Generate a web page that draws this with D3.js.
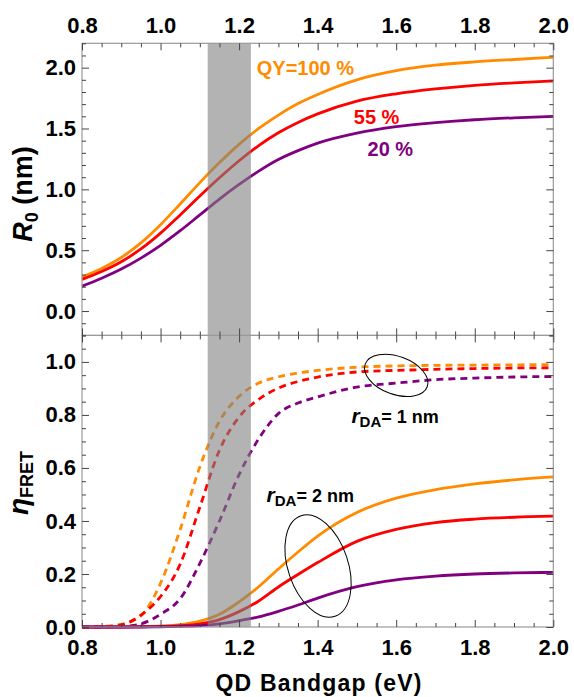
<!DOCTYPE html>
<html>
<head>
<meta charset="utf-8">
<script src="https://cdn.jsdelivr.net/npm/d3@7"></script>
<style>
  body { margin: 0; background: #fff; }
  svg text { font-family: "Liberation Sans", Arial, sans-serif; font-weight: bold; }
</style>
</head>
<body>
<svg width="574" height="697"></svg>
<script>
// bandgap grid (eV), shared by all curves
var bandgap = [0.80, 0.85, 0.90, 0.95, 1.00, 1.05, 1.10, 1.15, 1.20, 1.25, 1.30, 1.35, 1.40, 1.50, 1.60, 1.70, 1.80, 1.90, 2.00];

// Forster radius R0 (nm) for QY = 100 %, 55 %, 20 %
var r0QY100 = [0.28, 0.35, 0.44, 0.56, 0.71, 0.88, 1.055, 1.22, 1.37, 1.50, 1.61, 1.705, 1.78, 1.90, 1.975, 2.02, 2.047, 2.067, 2.085];
var r0QY55  = [0.26, 0.325, 0.405, 0.51, 0.64, 0.79, 0.945, 1.095, 1.235, 1.36, 1.465, 1.55, 1.62, 1.725, 1.785, 1.825, 1.855, 1.875, 1.89];
var r0QY20  = [0.205, 0.27, 0.345, 0.435, 0.54, 0.66, 0.79, 0.92, 1.04, 1.15, 1.245, 1.318, 1.38, 1.462, 1.515, 1.548, 1.572, 1.588, 1.60];

// FRET efficiency, rDA = 1 nm (dashed)
var eff1QY100 = [0, 0.002, 0.01, 0.042, 0.165, 0.368, 0.604, 0.776, 0.87, 0.92, 0.944, 0.958, 0.968, 0.98, 0.985, 0.987, 0.988, 0.989, 0.99];
var eff1QY55  = [0, 0.001, 0.008, 0.045, 0.115, 0.237, 0.452, 0.667, 0.792, 0.859, 0.901, 0.926, 0.943, 0.962, 0.968, 0.972, 0.975, 0.977, 0.978];
var eff1QY20  = [0, 0, 0.002, 0.012, 0.048, 0.107, 0.24, 0.40, 0.575, 0.71, 0.805, 0.845, 0.868, 0.905, 0.92, 0.933, 0.939, 0.943, 0.945];

// FRET efficiency, rDA = 2 nm (solid)
var eff2QY100 = [0, 0, 0.001, 0.002, 0.004, 0.009, 0.022, 0.048, 0.095, 0.152, 0.219, 0.283, 0.343, 0.432, 0.486, 0.518, 0.54, 0.555, 0.566];
var eff2QY55  = [0, 0, 0, 0.001, 0.002, 0.005, 0.012, 0.028, 0.058, 0.098, 0.151, 0.198, 0.243, 0.323, 0.368, 0.394, 0.407, 0.414, 0.418];
var eff2QY20  = [0, 0, 0, 0, 0.001, 0.002, 0.005, 0.012, 0.024, 0.038, 0.059, 0.083, 0.109, 0.152, 0.178, 0.192, 0.20, 0.204, 0.206];

var band = [1.12, 1.23];   // shaded bandgap window

var xTicks = [0.8, 1.0, 1.2, 1.4, 1.6, 1.8, 2.0];
var topTicks = [0.0, 0.5, 1.0, 1.5, 2.0];
var botTicks = [0.0, 0.2, 0.4, 0.6, 0.8, 1.0];

var orange = "#ff8c00", red = "#ff0000", purple = "#800080";

var svg = d3.select("svg");

var x = d3.scaleLinear().domain([0.8, 2.0]).range([82, 553.3]);
var yTop = d3.scaleLinear().domain([-0.2, 2.2]).range([335.4, 43.3]);
var yBot = d3.scaleLinear().domain([0, 1.1]).range([627, 335.4]);

function steps(a, b, s) {
    var out = [];
    var n = Math.round((b - a) / s);
    for (var i = 0; i <= n; i++) out.push(+(a + i * s).toFixed(3));
    return out;
}
function minors(a, b, s, majors) {
    return steps(a, b, s).filter(v => !majors.some(m => Math.abs(m - v) < 1e-6));
}

var xMinor = minors(0.8, 2.0, 0.05, xTicks);
var topMinor = minors(-0.2, 2.2, 0.1, topTicks);
var botMinor = minors(0, 1.1, 0.05, botTicks);

var line = function(y) {
    return d3.line()
        .x((d, i) => x(bandgap[i]))
        .y(d => y(d))
        .curve(d3.curveMonotoneX);
};

// curves
var topSeries = [[r0QY100, orange], [r0QY55, red], [r0QY20, purple]];
topSeries.forEach(function(s) {
    svg.append("path")
        .attr("d", line(yTop)(s[0]))
        .attr("fill", "none")
        .attr("stroke", s[1])
        .attr("stroke-width", 2.8);
});

var dashSeries = [[eff1QY100, orange], [eff1QY55, red], [eff1QY20, purple]];
dashSeries.forEach(function(s) {
    svg.append("path")
        .attr("d", line(yBot)(s[0]))
        .attr("fill", "none")
        .attr("stroke", s[1])
        .attr("stroke-width", 2.8)
        .attr("stroke-dasharray", "7,5");
});

var solidSeries = [[eff2QY100, orange], [eff2QY55, red], [eff2QY20, purple]];
solidSeries.forEach(function(s) {
    svg.append("path")
        .attr("d", line(yBot)(s[0]))
        .attr("fill", "none")
        .attr("stroke", s[1])
        .attr("stroke-width", 2.8);
});

// shaded window, drawn over the curves
svg.append("rect")
    .attr("x", x(band[0]))
    .attr("width", x(band[1]) - x(band[0]))
    .attr("y", yTop.range()[1])
    .attr("height", yBot.range()[0] - yTop.range()[1])
    .attr("fill", "#808080")
    .attr("fill-opacity", 0.6);

// frames
[[yTop], [yBot]].forEach(function(p) {
    var r = p[0].range();
    svg.append("rect")
        .attr("x", x.range()[0]).attr("y", r[1])
        .attr("width", x.range()[1] - x.range()[0])
        .attr("height", r[0] - r[1])
        .attr("fill", "none")
        .attr("stroke", "#9a9a9a")
        .attr("stroke-width", 1.2);
});

function addAxis(axis, tx, ty) {
    var g = svg.append("g")
        .attr("transform", "translate(" + tx + "," + ty + ")")
        .style("color", "#444")
        .call(axis);
    g.select(".domain").remove();
    g.selectAll("text")
        .attr("fill", "#000")
        .style("font-size", "22px")
        .style("font-family", "'Liberation Sans', Arial, sans-serif")
        .style("font-weight", "bold");
    return g;
}
var fmt = d3.format(".1f");

// x axes
addAxis(d3.axisTop(x).tickValues(xTicks).tickSize(-7).tickPadding(10).tickFormat(fmt), 0, yTop.range()[1]);
addAxis(d3.axisTop(x).tickValues(xMinor).tickSize(-4).tickFormat(""), 0, yTop.range()[1]);
addAxis(d3.axisBottom(x).tickValues(xTicks).tickSize(-7).tickFormat(""), 0, yTop.range()[0]);
addAxis(d3.axisBottom(x).tickValues(xMinor).tickSize(-4).tickFormat(""), 0, yTop.range()[0]);
addAxis(d3.axisTop(x).tickValues(xTicks).tickSize(-7).tickFormat(""), 0, yBot.range()[1]);
addAxis(d3.axisTop(x).tickValues(xMinor).tickSize(-4).tickFormat(""), 0, yBot.range()[1]);
addAxis(d3.axisBottom(x).tickValues(xTicks).tickSize(-7).tickPadding(12).tickFormat(fmt), 0, yBot.range()[0]);
addAxis(d3.axisBottom(x).tickValues(xMinor).tickSize(-4).tickFormat(""), 0, yBot.range()[0]);

// y axes
addAxis(d3.axisLeft(yTop).tickValues(topTicks).tickSize(-7).tickPadding(6).tickFormat(fmt), x.range()[0], 0);
addAxis(d3.axisLeft(yTop).tickValues(topMinor).tickSize(-4).tickFormat(""), x.range()[0], 0);
addAxis(d3.axisRight(yTop).tickValues(topTicks).tickSize(-7).tickFormat(""), x.range()[1], 0);
addAxis(d3.axisRight(yTop).tickValues(topMinor).tickSize(-4).tickFormat(""), x.range()[1], 0);
addAxis(d3.axisLeft(yBot).tickValues(botTicks).tickSize(-7).tickPadding(6).tickFormat(fmt), x.range()[0], 0);
addAxis(d3.axisLeft(yBot).tickValues(botMinor).tickSize(-4).tickFormat(""), x.range()[0], 0);
addAxis(d3.axisRight(yBot).tickValues(botTicks).tickSize(-7).tickFormat(""), x.range()[1], 0);
addAxis(d3.axisRight(yBot).tickValues(botMinor).tickSize(-4).tickFormat(""), x.range()[1], 0);

// axis titles
svg.append("text")
    .attr("x", 319).attr("y", 691)
    .attr("text-anchor", "middle")
    .style("font-size", "23px")
    .style("letter-spacing", "1.2px")
    .text("QD Bandgap (eV)");

var r0Label = svg.append("text")
    .attr("transform", "translate(32," + 194 + ") rotate(-90)")
    .attr("text-anchor", "middle")
    .style("font-size", "27px");
r0Label.append("tspan").style("font-style", "italic").text("R");
r0Label.append("tspan").attr("dy", 6).style("font-size", "18px").text("0");
r0Label.append("tspan").attr("dy", -6).text(" (nm)");

var etaLabel = svg.append("text")
    .attr("transform", "translate(28," + 483 + ") rotate(-90)")
    .attr("text-anchor", "middle")
    .style("font-size", "28px");
etaLabel.append("tspan").style("font-style", "italic").text("η");
etaLabel.append("tspan").attr("dy", 5).style("font-size", "18px").text("FRET");

// curve labels
svg.append("text").attr("x", x(1.245)).attr("y", yTop(1.94))
    .attr("fill", orange).style("font-size", "20px").text("QY=100 %");
svg.append("text").attr("x", x(1.492)).attr("y", yTop(1.537))
    .attr("fill", red).style("font-size", "20px").text("55 %");
svg.append("text").attr("x", x(1.527)).attr("y", yTop(1.274))
    .attr("fill", purple).style("font-size", "20px").text("20 %");

function rdaLabel(xv, yv, txt) {
    var t = svg.append("text").attr("x", x(xv)).attr("y", yBot(yv)).style("font-size", "18px");
    t.append("tspan").style("font-style", "italic").style("font-size", "21px").text("r");
    t.append("tspan").attr("dy", 4).style("font-size", "15px").text("DA");
    t.append("tspan").attr("dy", -4).text(txt);
}
rdaLabel(1.486, 0.768, "= 1 nm");
rdaLabel(1.27, 0.472, "= 2 nm");

// ellipses marking the curve groups
svg.append("ellipse")
    .attr("transform", "translate(" + x(1.6) + "," + yBot(0.949) + ") rotate(20)")
    .attr("rx", 33).attr("ry", 19)
    .attr("fill", "none").attr("stroke", "#000").attr("stroke-width", 1);
svg.append("ellipse")
    .attr("transform", "translate(" + x(1.401) + "," + yBot(0.23) + ") rotate(-18.7)")
    .attr("rx", 30).attr("ry", 53)
    .attr("fill", "none").attr("stroke", "#000").attr("stroke-width", 1);
</script>
</body>
</html>
